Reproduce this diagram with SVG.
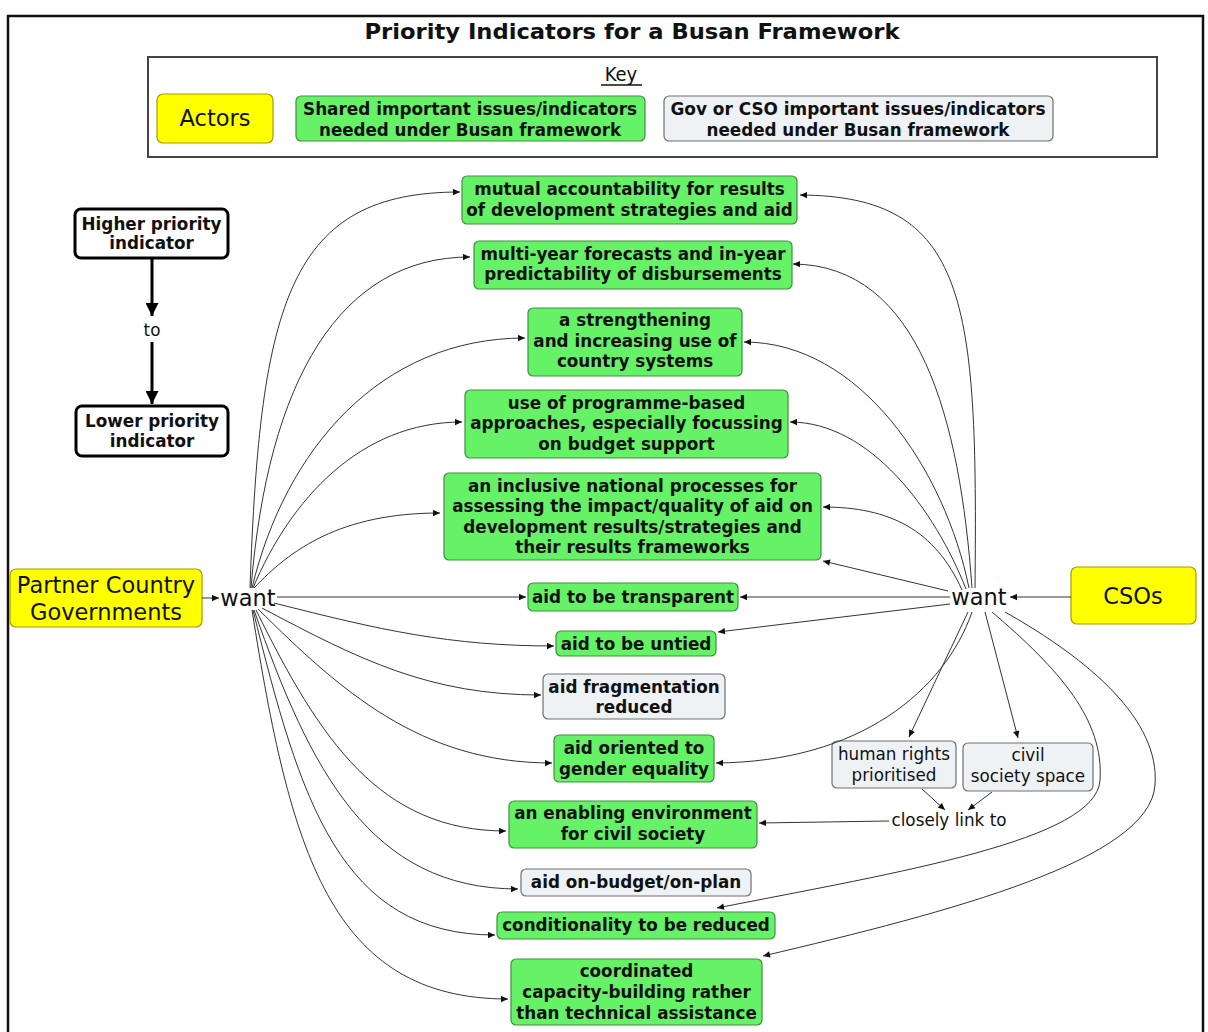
<svg xmlns="http://www.w3.org/2000/svg" width="1208" height="1032" viewBox="0 0 1208 1032">
<defs>
<marker id="arr" viewBox="0 0 10 10" refX="10" refY="5" markerWidth="8" markerHeight="7" markerUnits="userSpaceOnUse" orient="auto"><path d="M0,0.5 L10,5 L0,9.5 z" fill="#111"/></marker>
<marker id="arrB" viewBox="0 0 10 10" refX="10" refY="5" markerWidth="13" markerHeight="13" markerUnits="userSpaceOnUse" orient="auto"><path d="M0,0 L10,5 L0,10 z" fill="#000"/></marker>
</defs>
<style>
.g{fill:#66f266;stroke:#3f8f3f;stroke-width:1.2}
.gr{fill:#eef2f5;stroke:#6f6f6f;stroke-width:1.2}
.y{fill:#ffff00;stroke:#a89a00;stroke-width:1.2}
.lg{fill:#fff;stroke:#000;stroke-width:3}
.nt{font-family:"DejaVu Sans",Verdana,sans-serif;font-weight:bold;font-size:16.8px;fill:#111;text-anchor:middle}
.st{font-family:"DejaVu Sans",Verdana,sans-serif;font-size:16.8px;fill:#111;text-anchor:middle}
.at{font-family:"DejaVu Sans",Verdana,sans-serif;font-size:22.5px;fill:#111;text-anchor:middle}
.ct{font-family:"DejaVu Sans Condensed","DejaVu Sans",sans-serif;font-weight:bold;fill:#111;text-anchor:middle}
.c{fill:none;stroke:#333;stroke-width:1}
.c path,.c line{marker-end:url(#arr)}
</style>
<rect x="0" y="0" width="1208" height="1032" fill="#fff"/>
<rect x="8" y="16" width="1195" height="1030" fill="none" stroke="#111" stroke-width="2.5"/>
<text class="ct" x="632" y="39" font-size="21" textLength="535" lengthAdjust="spacingAndGlyphs">Priority Indicators for a Busan Framework</text>

<g id="key">
<rect x="148" y="57" width="1009" height="100" fill="none" stroke="#444" stroke-width="2"/>
<text x="621" y="81" font-family="DejaVu Sans Condensed,DejaVu Sans,sans-serif" font-size="20" fill="#111" text-anchor="middle">Key</text>
<line x1="601" y1="85" x2="642" y2="85" stroke="#111" stroke-width="1.3"/>
<g id="key-actors"><rect class="y" x="157" y="94" width="116" height="49" rx="6"/><text class="at" x="215" y="126">Actors</text></g>
<g id="key-shared"><rect class="g" x="296" y="96" width="349" height="45" rx="5"/>
<text class="ct" x="470" y="115" font-size="17" textLength="334" lengthAdjust="spacingAndGlyphs">Shared important issues/indicators</text>
<text class="ct" x="470" y="136" font-size="17" textLength="302" lengthAdjust="spacingAndGlyphs">needed under Busan framework</text></g>
<g id="key-gov"><rect class="gr" x="664" y="96" width="389" height="45" rx="5"/>
<text class="ct" x="858" y="115" font-size="17" textLength="375" lengthAdjust="spacingAndGlyphs">Gov or CSO important issues/indicators</text>
<text class="ct" x="858" y="136" font-size="17" textLength="303" lengthAdjust="spacingAndGlyphs">needed under Busan framework</text></g>
</g>

<g id="legend-higher"><rect class="lg" x="75" y="209" width="153" height="49" rx="6"/>
<text class="nt" x="151.5" y="230">Higher priority</text><text class="nt" x="151.5" y="249">indicator</text></g>
<g id="legend-lower"><rect class="lg" x="76" y="406" width="152" height="50" rx="6"/>
<text class="nt" x="152" y="427">Lower priority</text><text class="nt" x="152" y="447">indicator</text></g>
<g id="legend-arrow">
<line x1="152" y1="258" x2="152" y2="316" stroke="#000" stroke-width="3" marker-end="url(#arrB)"/>
<text class="st" x="152" y="336" font-size="16">to</text>
<line x1="152" y1="342" x2="152" y2="404" stroke="#000" stroke-width="3" marker-end="url(#arrB)"/>
</g>

<g id="pcg"><rect class="y" x="10" y="569" width="192" height="58" rx="6"/>
<text class="at" x="106" y="593">Partner Country</text><text class="at" x="106" y="620">Governments</text></g>
<g id="want-left"><text class="at" x="248" y="606">want</text></g>
<g id="csos"><rect class="y" x="1071" y="567" width="125" height="57" rx="6"/>
<text class="at" x="1133" y="604">CSOs</text></g>
<g id="want-right"><text class="at" x="979" y="605">want</text></g>

<g id="n1"><rect class="g" x="462" y="176" width="335" height="48" rx="5"/>
<text class="nt" x="629.5" y="195">mutual accountability for results</text><text class="nt" x="629.5" y="216">of development strategies and aid</text></g>
<g id="n2"><rect class="g" x="474" y="241" width="318" height="48" rx="5"/>
<text class="nt" x="633" y="260">multi-year forecasts and in-year</text><text class="nt" x="633" y="280">predictability of disbursements</text></g>
<g id="n3"><rect class="g" x="528" y="308" width="214" height="68" rx="5"/>
<text class="nt" x="635" y="326">a strengthening</text><text class="nt" x="635" y="347">and increasing use of</text><text class="nt" x="635" y="367">country systems</text></g>
<g id="n4"><rect class="g" x="465" y="390" width="323" height="68" rx="5"/>
<text class="nt" x="626.5" y="409">use of programme-based</text><text class="nt" x="626.5" y="429">approaches, especially focussing</text><text class="nt" x="626.5" y="450">on budget support</text></g>
<g id="n5"><rect class="g" x="444" y="473" width="377" height="87" rx="5"/>
<text class="nt" x="632.5" y="492">an inclusive national processes for</text><text class="nt" x="632.5" y="512">assessing the impact/quality of aid on</text><text class="nt" x="632.5" y="533">development results/strategies and</text><text class="nt" x="632.5" y="553">their results frameworks</text></g>
<g id="n6"><rect class="g" x="528" y="583" width="210" height="28" rx="5"/>
<text class="nt" x="633" y="603">aid to be transparent</text></g>
<g id="n7"><rect class="g" x="556" y="631" width="160" height="25" rx="5"/>
<text class="nt" x="636" y="650">aid to be untied</text></g>
<g id="n8"><rect class="gr" x="543" y="674" width="182" height="45" rx="5"/>
<text class="nt" x="634" y="693">aid fragmentation</text><text class="nt" x="634" y="713">reduced</text></g>
<g id="n9"><rect class="g" x="554" y="735" width="160" height="47" rx="5"/>
<text class="nt" x="634" y="754">aid oriented to</text><text class="nt" x="634" y="775">gender equality</text></g>
<g id="n10"><rect class="g" x="509" y="801" width="248" height="47" rx="5"/>
<text class="nt" x="633" y="819">an enabling environment</text><text class="nt" x="633" y="840">for civil society</text></g>
<g id="n11"><rect class="gr" x="521" y="869" width="230" height="27" rx="5"/>
<text class="nt" x="636" y="888">aid on-budget/on-plan</text></g>
<g id="n12"><rect class="g" x="497" y="912" width="278" height="27" rx="5"/>
<text class="nt" x="636" y="931">conditionality to be reduced</text></g>
<g id="n13"><rect class="g" x="511" y="959" width="251" height="66" rx="5"/>
<text class="nt" x="636.5" y="977">coordinated</text><text class="nt" x="636.5" y="998">capacity-building rather</text><text class="nt" x="636.5" y="1019">than technical assistance</text></g>
<g id="hr"><rect class="gr" x="832" y="741" width="124" height="47" rx="5"/>
<text class="st" x="894" y="760">human rights</text><text class="st" x="894" y="781">prioritised</text></g>
<g id="css"><rect class="gr" x="963" y="743" width="130" height="48" rx="5"/>
<text class="st" x="1028" y="761">civil</text><text class="st" x="1028" y="782">society space</text></g>
<g id="link"><text class="st" x="949" y="826">closely link to</text></g>

<g id="connectors" class="c">
<line x1="202" y1="598" x2="219" y2="598"/>
<line x1="1071" y1="597" x2="1010" y2="597"/>
<path d="M250,588 C260,300 290,192 460,192"/>
<path d="M251,588 C268,380 340,257 470,257"/>
<path d="M252,588 C285,450 380,338 525,338"/>
<path d="M253,588 C290,500 360,422 462,422"/>
<path d="M254,588 C290,550 340,513 440,513"/>
<line x1="277" y1="597" x2="526" y2="597"/>
<path d="M274,603 C380,630 450,646 554,646"/>
<path d="M262,608 C360,660 430,695 541,695"/>
<path d="M258,609 C340,690 420,763 552,763"/>
<path d="M256,610 C320,740 380,831 506,831"/>
<path d="M254,610 C310,770 370,889 518,889"/>
<path d="M253,610 C300,800 340,935 495,935"/>
<path d="M252,610 C290,850 330,999 508,999"/>
<path d="M975,588 C978,300 968,196 800,195"/>
<path d="M972,588 C960,420 920,265 793,264"/>
<path d="M969,588 C945,470 860,342 744,342"/>
<path d="M966,589 C935,510 870,422 790,422"/>
<path d="M962,590 C935,530 890,507 823,507"/>
<line x1="948" y1="591" x2="823" y2="561"/>
<line x1="950" y1="597" x2="740" y2="597"/>
<line x1="950" y1="604" x2="718" y2="632"/>
<path d="M972,612 C945,690 860,762 716,763"/>
<line x1="968" y1="612" x2="909" y2="737"/>
<line x1="985" y1="612" x2="1018" y2="738"/>
<path d="M992,612 C1060,670 1104,720 1100,780 C1097,840 900,872 717,908"/>
<path d="M1005,612 C1090,660 1160,720 1155,785 C1150,860 950,912 763,956"/>
<line x1="922" y1="789" x2="945" y2="810"/>
<line x1="992" y1="792" x2="968" y2="810"/>
<line x1="889" y1="821" x2="759" y2="823"/>
</g>
</svg>
